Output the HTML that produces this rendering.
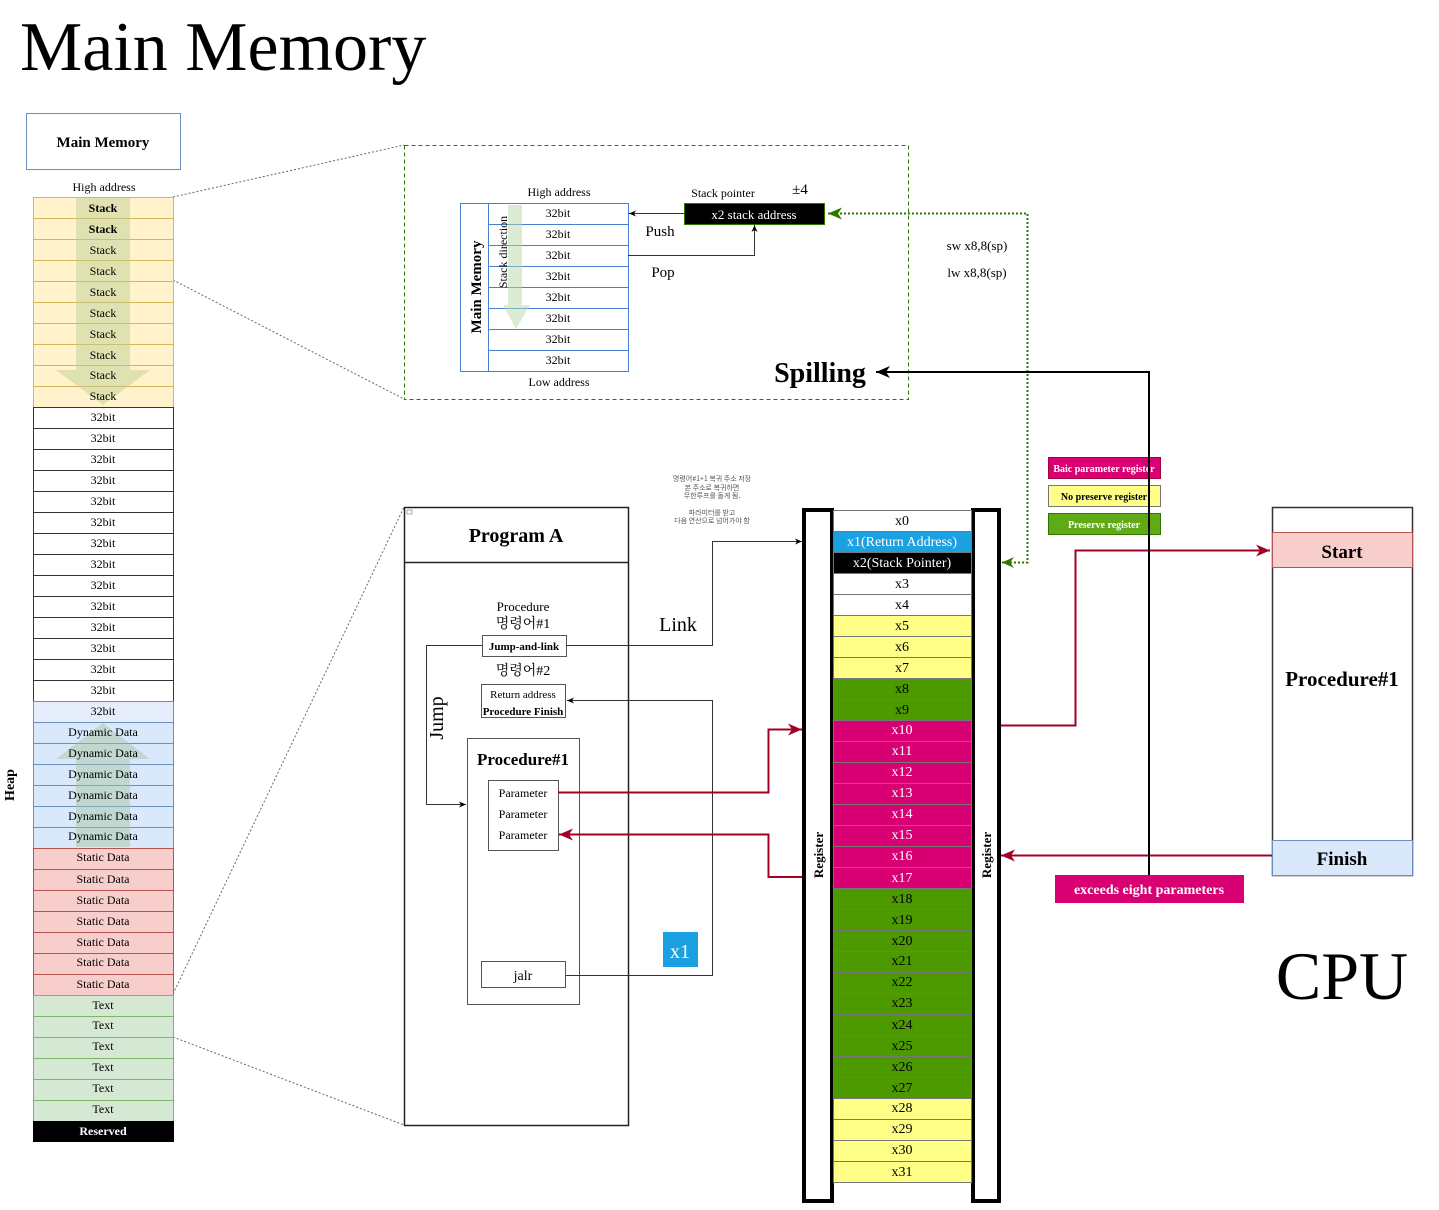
<!DOCTYPE html>
<html><head><meta charset="utf-8"><style>
html,body{margin:0;padding:0;background:#fff}
svg{display:block;font-family:"Liberation Serif","Noto Serif CJK SC","Noto Sans CJK KR",serif}
</style></head><body>
<svg width="1439" height="1210" viewBox="0 0 1439 1210" xmlns="http://www.w3.org/2000/svg">
<defs>
<marker id="ab" markerWidth="8" markerHeight="8" refX="7" refY="4" orient="auto" markerUnits="userSpaceOnUse"><path d="M0,1 L7,4 L0,7 L2,4z" fill="#000"/></marker>
<marker id="ar" markerWidth="16" markerHeight="14" refX="14" refY="7" orient="auto" markerUnits="userSpaceOnUse"><path d="M0,1 L14,7 L0,13 L4,7z" fill="#a20025"/></marker>
<marker id="ag" markerWidth="16" markerHeight="14" refX="14" refY="7" orient="auto" markerUnits="userSpaceOnUse"><path d="M0,1 L14,7 L0,13 L4,7z" fill="#2d7600"/></marker>
<marker id="ak" markerWidth="16" markerHeight="14" refX="14" refY="7" orient="auto" markerUnits="userSpaceOnUse"><path d="M0,1 L14,7 L0,13 L4,7z" fill="#000"/></marker>
</defs>

<text x="20" y="70" font-size="70">Main Memory</text>
<rect x="26.5" y="113.5" width="154" height="56" fill="#fff" stroke="#6c8ebf"/>
<text x="103" y="147" font-size="15" font-weight="bold" text-anchor="middle">Main Memory</text>
<text x="104" y="191" font-size="12" text-anchor="middle">High address</text>

<g stroke="#666" stroke-dasharray="2,2" fill="none">
<line x1="173" y1="197" x2="404" y2="145"/>
<line x1="173" y1="280" x2="404" y2="399"/>
<line x1="173" y1="994" x2="404" y2="507"/>
<line x1="173" y1="1037" x2="404" y2="1125"/>
</g>

<g font-size="12" text-anchor="middle">
<g fill="#fff2cc" stroke="#d6b656">
<rect x="33.5" y="197.5" width="140" height="21"/><rect x="33.5" y="218.5" width="140" height="21"/><rect x="33.5" y="239.5" width="140" height="21"/><rect x="33.5" y="260.5" width="140" height="21"/><rect x="33.5" y="281.5" width="140" height="21"/><rect x="33.5" y="302.5" width="140" height="21"/><rect x="33.5" y="323.5" width="140" height="21"/><rect x="33.5" y="344.5" width="140" height="21"/><rect x="33.5" y="365.5" width="140" height="21"/><rect x="33.5" y="386.5" width="140" height="21"/>
</g>
<path d="M76,198 H130 V370 H150 L103,405 L56,370 H76Z" fill="#b9cf8f" opacity="0.45"/>
<text x="103" y="212" font-weight="bold">Stack</text><text x="103" y="233" font-weight="bold">Stack</text><text x="103" y="254">Stack</text><text x="103" y="275">Stack</text><text x="103" y="296">Stack</text><text x="103" y="317">Stack</text><text x="103" y="338">Stack</text><text x="103" y="359">Stack</text><text x="103" y="379">Stack</text><text x="103" y="400">Stack</text>
<g fill="#fff" stroke="#333">
<rect x="33.5" y="407.5" width="140" height="21"/><rect x="33.5" y="428.5" width="140" height="21"/><rect x="33.5" y="449.5" width="140" height="21"/><rect x="33.5" y="470.5" width="140" height="21"/><rect x="33.5" y="491.5" width="140" height="21"/><rect x="33.5" y="512.5" width="140" height="21"/><rect x="33.5" y="533.5" width="140" height="21"/><rect x="33.5" y="554.5" width="140" height="21"/><rect x="33.5" y="575.5" width="140" height="21"/><rect x="33.5" y="596.5" width="140" height="21"/><rect x="33.5" y="617.5" width="140" height="21"/><rect x="33.5" y="638.5" width="140" height="21"/><rect x="33.5" y="659.5" width="140" height="21"/><rect x="33.5" y="680.5" width="140" height="21"/>
</g>
<text x="103" y="421">32bit</text><text x="103" y="442">32bit</text><text x="103" y="463">32bit</text><text x="103" y="484">32bit</text><text x="103" y="505">32bit</text><text x="103" y="526">32bit</text><text x="103" y="547">32bit</text><text x="103" y="568">32bit</text><text x="103" y="589">32bit</text><text x="103" y="610">32bit</text><text x="103" y="631">32bit</text><text x="103" y="652">32bit</text><text x="103" y="673">32bit</text><text x="103" y="694">32bit</text>
<rect x="33.5" y="701.5" width="140" height="21" fill="#e6eefb" stroke="#6c8ebf"/>
<text x="103" y="715">32bit</text>
<g fill="#dae8fc" stroke="#6c8ebf">
<rect x="33.5" y="722.5" width="140" height="21"/><rect x="33.5" y="743.5" width="140" height="21"/><rect x="33.5" y="764.5" width="140" height="21"/><rect x="33.5" y="785.5" width="140" height="21"/><rect x="33.5" y="806.5" width="140" height="21"/><rect x="33.5" y="827.5" width="140" height="21"/>
</g>
<path d="M76,847 H130 V759 H150 L103,723 L56,759 H76Z" fill="#9fc59a" opacity="0.45"/>
<text x="103" y="736">Dynamic Data</text><text x="103" y="757">Dynamic Data</text><text x="103" y="778">Dynamic Data</text><text x="103" y="799">Dynamic Data</text><text x="103" y="820">Dynamic Data</text><text x="103" y="840">Dynamic Data</text>
<g fill="#f8cecc" stroke="#b85450">
<rect x="33.5" y="848.5" width="140" height="21"/><rect x="33.5" y="869.5" width="140" height="21"/><rect x="33.5" y="890.5" width="140" height="21"/><rect x="33.5" y="911.5" width="140" height="21"/><rect x="33.5" y="932.5" width="140" height="21"/><rect x="33.5" y="953.5" width="140" height="21"/><rect x="33.5" y="974.5" width="140" height="21"/>
</g>
<text x="103" y="861">Static Data</text><text x="103" y="883">Static Data</text><text x="103" y="904">Static Data</text><text x="103" y="925">Static Data</text><text x="103" y="946">Static Data</text><text x="103" y="966">Static Data</text><text x="103" y="988">Static Data</text>
<g fill="#d5e8d4" stroke="#82b366">
<rect x="33.5" y="995.5" width="140" height="21"/><rect x="33.5" y="1016.5" width="140" height="21"/><rect x="33.5" y="1037.5" width="140" height="21"/><rect x="33.5" y="1058.5" width="140" height="21"/><rect x="33.5" y="1079.5" width="140" height="21"/><rect x="33.5" y="1100.5" width="140" height="21"/>
</g>
<text x="103" y="1009">Text</text><text x="103" y="1029">Text</text><text x="103" y="1050">Text</text><text x="103" y="1071">Text</text><text x="103" y="1092">Text</text><text x="103" y="1113">Text</text>
<rect x="33" y="1121" width="141" height="21" fill="#000"/>
<text x="103" y="1135" fill="#fff" font-weight="bold">Reserved</text>
</g>
<text transform="translate(14,785) rotate(-90)" font-size="14" font-weight="bold" text-anchor="middle">Heap</text>

<rect x="404.5" y="145.5" width="504" height="254" fill="none" stroke="#2d7600" stroke-dasharray="4,3"/>
<text x="559" y="196" font-size="12" text-anchor="middle">High address</text>
<text x="559" y="386" font-size="12" text-anchor="middle">Low address</text>
<rect x="460.5" y="203.5" width="168" height="168" fill="#fff" stroke="#4a7fd0"/>
<line x1="488.5" y1="203" x2="488.5" y2="372" stroke="#4a7fd0"/>
<g stroke="#4a7fd0"><line x1="488" y1="224.5" x2="628" y2="224.5"/><line x1="488" y1="245.5" x2="628" y2="245.5"/><line x1="488" y1="266.5" x2="628" y2="266.5"/><line x1="488" y1="287.5" x2="628" y2="287.5"/><line x1="488" y1="308.5" x2="628" y2="308.5"/><line x1="488" y1="329.5" x2="628" y2="329.5"/><line x1="488" y1="350.5" x2="628" y2="350.5"/></g>
<path d="M508,205 H522 V305 H530 L516,329 L503,305 H508Z" fill="#b9d7a8" opacity="0.5"/>
<g font-size="12" text-anchor="middle"><text x="558" y="217">32bit</text><text x="558" y="238">32bit</text><text x="558" y="259">32bit</text><text x="558" y="280">32bit</text><text x="558" y="301">32bit</text><text x="558" y="322">32bit</text><text x="558" y="343">32bit</text><text x="558" y="364">32bit</text></g>
<text transform="translate(481,287) rotate(-90)" font-size="15" font-weight="bold" text-anchor="middle">Main Memory</text>
<text transform="translate(507,252) rotate(-90)" font-size="12" text-anchor="middle">Stack direction</text>
<text x="723" y="197" font-size="12" text-anchor="middle">Stack pointer</text>
<text x="800" y="194" font-size="15" text-anchor="middle">±4</text>
<rect x="684.5" y="203.5" width="140" height="21" fill="#000" stroke="#2d7600"/>
<text x="754" y="219" font-size="13" fill="#fff" text-anchor="middle">x2 stack address</text>
<line x1="684" y1="213.5" x2="629" y2="213.5" stroke="#333" marker-end="url(#ab)"/>
<polyline points="628,255.5 754.5,255.5 754.5,225" fill="none" stroke="#333" marker-end="url(#ab)"/>
<text x="660" y="236" font-size="15" text-anchor="middle">Push</text>
<text x="663" y="277" font-size="15" text-anchor="middle">Pop</text>
<text x="820" y="382" font-size="28" font-weight="bold" text-anchor="middle">Spilling</text>
<text x="977" y="250" font-size="13" text-anchor="middle">sw x8,8(sp)</text>
<text x="977" y="277" font-size="13" text-anchor="middle">lw x8,8(sp)</text>

<polyline points="1002,562.5 1027.5,562.5 1027.5,213.5 828,213.5" fill="none" stroke="#2d7600" stroke-width="2" stroke-dasharray="2,2" marker-end="url(#ag)"/>
<path d="M1002,562.5 L1014,557 L1010,562.5 L1014,568Z" fill="#2d7600"/>

<g font-size="7" fill="#555" text-anchor="middle" font-family="'Noto Sans CJK KR',sans-serif">
<text x="712" y="481">명령어#1+1 복귀 주소 저장</text>
<text x="712" y="490">본 주소로 복귀하면</text>
<text x="712" y="498">무한루프를 돌게 됨.</text>
<text x="712" y="515">파라미터를 받고</text>
<text x="712" y="523">다음 연산으로 넘어가야 함</text>
</g>

<rect x="404.5" y="507.5" width="224" height="618" fill="none" stroke="#222" stroke-width="1.5"/>
<line x1="404" y1="562.5" x2="628" y2="562.5" stroke="#222" stroke-width="1.5"/>
<rect x="407" y="510" width="5" height="4" fill="none" stroke="#888" stroke-width="0.7"/>
<text x="516" y="542" font-size="20" font-weight="bold" text-anchor="middle">Program A</text>
<text x="523" y="611" font-size="13" text-anchor="middle">Procedure</text>
<text x="523" y="628" font-size="14" text-anchor="middle">명령어#1</text>
<rect x="482.5" y="635.5" width="84" height="21" fill="#fff" stroke="#555"/>
<text x="524" y="650" font-size="11" font-weight="bold" text-anchor="middle">Jump-and-link</text>
<text x="523" y="675" font-size="14" text-anchor="middle">명령어#2</text>
<rect x="481.5" y="684.5" width="84" height="33" fill="#fff" stroke="#555"/>
<text x="523" y="698" font-size="11" text-anchor="middle">Return address</text>
<text x="523" y="715" font-size="11" font-weight="bold" text-anchor="middle">Procedure Finish</text>
<polyline points="482,645.5 426.5,645.5 426.5,804.5 466,804.5" fill="none" stroke="#333" marker-end="url(#ab)"/>
<text transform="translate(443,718) rotate(-90)" font-size="20" text-anchor="middle">Jump</text>
<rect x="467.5" y="738.5" width="112" height="266" fill="#fff" stroke="#555"/>
<text x="523" y="765" font-size="17" font-weight="bold" text-anchor="middle">Procedure#1</text>
<rect x="488.5" y="780.5" width="70" height="70" fill="#fff" stroke="#555"/>
<g font-size="12" text-anchor="middle"><text x="523" y="797">Parameter</text><text x="523" y="818">Parameter</text><text x="523" y="839">Parameter</text></g>
<rect x="481.5" y="961.5" width="84" height="26" fill="#fff" stroke="#555"/>
<text x="523" y="980" font-size="14" text-anchor="middle">jalr</text>
<polyline points="566,975.5 712.5,975.5 712.5,700.5 567,700.5" fill="none" stroke="#333" marker-end="url(#ab)"/>
<polyline points="566,645.5 712.5,645.5 712.5,541.5 802,541.5" fill="none" stroke="#333" marker-end="url(#ab)"/>
<text x="678" y="631" font-size="20" text-anchor="middle">Link</text>
<rect x="663" y="932" width="35" height="35" fill="#1ba1e2"/>
<text x="680" y="958" font-size="20" fill="#fff" text-anchor="middle">x1</text>

<polyline points="558,792.5 768.5,792.5 768.5,729.5 802,729.5" fill="none" stroke="#a20025" stroke-width="2" marker-end="url(#ar)"/>
<polyline points="803,877 768.5,877 768.5,834.5 559,834.5" fill="none" stroke="#a20025" stroke-width="2" marker-end="url(#ar)"/>
<polyline points="1000,725.5 1075.5,725.5 1075.5,550.5 1270,550.5" fill="none" stroke="#a20025" stroke-width="2" marker-end="url(#ar)"/>
<line x1="1272" y1="855.5" x2="1001" y2="855.5" stroke="#a20025" stroke-width="2" marker-end="url(#ar)"/>

<rect x="804" y="510" width="28" height="691" fill="#fff" stroke="#000" stroke-width="4"/>
<rect x="973" y="510" width="26" height="691" fill="#fff" stroke="#000" stroke-width="4"/>
<text transform="translate(823,855) rotate(-90)" font-size="13" font-weight="bold" text-anchor="middle">Register</text>
<text transform="translate(991,855) rotate(-90)" font-size="13" font-weight="bold" text-anchor="middle">Register</text>
<g stroke="#777" stroke-width="1">
<rect x="833.5" y="510.5" width="138" height="21" fill="#fff"/>
<rect x="833.5" y="531.5" width="138" height="21" fill="#1ba1e2"/>
<rect x="833.5" y="552.5" width="138" height="21" fill="#000"/>
<rect x="833.5" y="573.5" width="138" height="21" fill="#fff"/>
<rect x="833.5" y="594.5" width="138" height="21" fill="#fff"/>
<rect x="833.5" y="615.5" width="138" height="21" fill="#ffff88"/>
<rect x="833.5" y="636.5" width="138" height="21" fill="#ffff88"/>
<rect x="833.5" y="657.5" width="138" height="21" fill="#ffff88"/>
<rect x="833.5" y="678.5" width="138" height="21" fill="#4d9900"/>
<rect x="833.5" y="699.5" width="138" height="21" fill="#4d9900"/>
<rect x="833.5" y="720.5" width="138" height="21" fill="#d80073"/>
<rect x="833.5" y="741.5" width="138" height="21" fill="#d80073"/>
<rect x="833.5" y="762.5" width="138" height="21" fill="#d80073"/>
<rect x="833.5" y="783.5" width="138" height="21" fill="#d80073"/>
<rect x="833.5" y="804.5" width="138" height="21" fill="#d80073"/>
<rect x="833.5" y="825.5" width="138" height="21" fill="#d80073"/>
<rect x="833.5" y="846.5" width="138" height="21" fill="#d80073"/>
<rect x="833.5" y="867.5" width="138" height="21" fill="#d80073"/>
<rect x="833.5" y="888.5" width="138" height="21" fill="#4d9900"/>
<rect x="833.5" y="909.5" width="138" height="21" fill="#4d9900"/>
<rect x="833.5" y="930.5" width="138" height="21" fill="#4d9900"/>
<rect x="833.5" y="951.5" width="138" height="21" fill="#4d9900"/>
<rect x="833.5" y="972.5" width="138" height="21" fill="#4d9900"/>
<rect x="833.5" y="993.5" width="138" height="21" fill="#4d9900"/>
<rect x="833.5" y="1014.5" width="138" height="21" fill="#4d9900"/>
<rect x="833.5" y="1035.5" width="138" height="21" fill="#4d9900"/>
<rect x="833.5" y="1056.5" width="138" height="21" fill="#4d9900"/>
<rect x="833.5" y="1077.5" width="138" height="21" fill="#4d9900"/>
<rect x="833.5" y="1098.5" width="138" height="21" fill="#ffff88"/>
<rect x="833.5" y="1119.5" width="138" height="21" fill="#ffff88"/>
<rect x="833.5" y="1140.5" width="138" height="21" fill="#ffff88"/>
<rect x="833.5" y="1161.5" width="138" height="21" fill="#ffff88"/>
</g>
<g font-size="14" text-anchor="middle">
<text x="902" y="525">x0</text>
<text x="902" y="546" fill="#fff">x1(Return Address)</text>
<text x="902" y="567" fill="#fff">x2(Stack Pointer)</text>
<text x="902" y="588">x3</text><text x="902" y="609">x4</text><text x="902" y="630">x5</text><text x="902" y="651">x6</text><text x="902" y="672">x7</text><text x="902" y="693">x8</text><text x="902" y="714">x9</text>
<g fill="#fff"><text x="902" y="734">x10</text><text x="902" y="755">x11</text><text x="902" y="776">x12</text><text x="902" y="797">x13</text><text x="902" y="818">x14</text><text x="902" y="839">x15</text><text x="902" y="860">x16</text><text x="902" y="882">x17</text></g>
<text x="902" y="903">x18</text><text x="902" y="924">x19</text><text x="902" y="945">x20</text><text x="902" y="965">x21</text><text x="902" y="986">x22</text><text x="902" y="1007">x23</text><text x="902" y="1029">x24</text><text x="902" y="1050">x25</text><text x="902" y="1071">x26</text><text x="902" y="1092">x27</text><text x="902" y="1112">x28</text><text x="902" y="1133">x29</text><text x="902" y="1154">x30</text><text x="902" y="1176">x31</text>
</g>

<rect x="1048.5" y="457.5" width="112" height="21" fill="#d80073" stroke="#a50040"/>
<text x="1104" y="472" font-size="10" font-weight="bold" fill="#fff" text-anchor="middle">Baic parameter register</text>
<rect x="1048.5" y="485.5" width="112" height="21" fill="#ffff88" stroke="#777"/>
<text x="1104" y="500" font-size="10" font-weight="bold" text-anchor="middle">No preserve register</text>
<rect x="1048.5" y="513.5" width="112" height="21" fill="#60a917" stroke="#2d7600"/>
<text x="1104" y="528" font-size="10" font-weight="bold" fill="#fff" text-anchor="middle">Preserve register</text>

<polyline points="1149,875 1149,372 876,372" fill="none" stroke="#000" stroke-width="2" marker-end="url(#ak)"/>

<rect x="1272.5" y="507.5" width="140" height="368" fill="#fff" stroke="#333" stroke-width="1.5"/>
<rect x="1272.5" y="532.5" width="140" height="35" fill="#f8cecc" stroke="#b85450"/>
<text x="1342" y="558" font-size="19" font-weight="bold" text-anchor="middle">Start</text>
<text x="1342" y="686" font-size="21" font-weight="bold" text-anchor="middle">Procedure#1</text>
<rect x="1272.5" y="840.5" width="140" height="35" fill="#dae8fc" stroke="#6c8ebf"/>
<text x="1342" y="865" font-size="19" font-weight="bold" text-anchor="middle">Finish</text>

<rect x="1055" y="875" width="189" height="28" fill="#d80073"/>
<text x="1149" y="894" font-size="14" font-weight="bold" fill="#fff" text-anchor="middle">exceeds eight parameters</text>
<text x="1342" y="999" font-size="68" text-anchor="middle">CPU</text>
</svg>
</body></html>
